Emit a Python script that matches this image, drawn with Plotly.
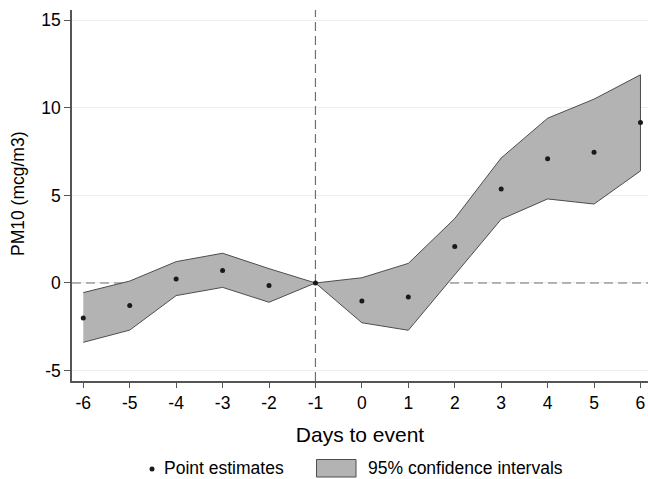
import plotly.graph_objects as go

days = [-6, -5, -4, -3, -2, -1, 0, 1, 2, 3, 4, 5, 6]
point_est = [-2.0, -1.28, 0.23, 0.72, -0.15, 0.0, -1.03, -0.80, 2.08, 5.37, 7.10, 7.47, 9.16]
ci_upper = [-0.55, 0.11, 1.22, 1.70, 0.82, 0.0, 0.30, 1.12, 3.68, 7.14, 9.41, 10.50, 11.89]
ci_lower = [-3.39, -2.69, -0.72, -0.25, -1.10, 0.0, -2.27, -2.70, 0.47, 3.64, 4.80, 4.51, 6.40]
x_ticktext = ["-6", "-5", "-4", "-3", "-2", "-1", "0", "1", "2", "3", "4", "5", "6"]
y_ticks = [-5, 0, 5, 10, 15]
y_ticktext = ["-5", "0", "5", "10", "15"]
legend_labels = ["Point estimates", "95% confidence intervals"]
x_title = "Days to event"
y_title = "PM10 (mcg/m3)"
event_day = -1
x_range = [-6.243, 6.162]
y_range = [-5.597, 15.59]

font = "Liberation Sans, Arial, Helvetica, sans-serif"
FS = 17.5
W, H = 648, 479
L, R, T, B = 72, 0, 10, 98
pw, ph = W - L - R, H - T - B


def px(x):
    return (x - L) / pw


def py(y):
    return (H - B - y) / ph


dash_line = dict(color="#707070", width=1.2, dash="9px,5px")

fig = go.Figure()
# reference lines (drawn beneath the band)
fig.add_trace(go.Scatter(x=[event_day, event_day], y=y_range, mode="lines",
                         line=dash_line, hoverinfo="skip", showlegend=False))
fig.add_trace(go.Scatter(x=x_range, y=[0, 0], mode="lines",
                         line=dash_line, hoverinfo="skip", showlegend=False))
fig.add_trace(go.Scatter(
    x=days + days[::-1], y=ci_upper + ci_lower[::-1],
    fill="toself", fillcolor="#b3b3b3", mode="lines",
    line=dict(color="#4d4d4d", width=1),
    name=legend_labels[1], hoverinfo="skip",
))
fig.add_trace(go.Scatter(
    x=days, y=point_est, mode="markers",
    marker=dict(color="#1a1a1a", size=5),
    name=legend_labels[0],
))

# y-axis title
fig.add_annotation(text=y_title, xref="paper", yref="paper",
                   x=px(18), y=py(194), xanchor="center", yanchor="middle",
                   textangle=-90, showarrow=False, font=dict(size=FS))

# legend (custom, to match the reference key)
fig.add_shape(type="circle", xref="paper", yref="paper",
              x0=px(149.5), x1=px(154.5), y0=py(471.5), y1=py(466.5),
              fillcolor="#1a1a1a", line=dict(width=0))
fig.add_annotation(text=legend_labels[0], xref="paper", yref="paper",
                   x=px(162), y=py(468), xanchor="left", yanchor="middle",
                   showarrow=False, font=dict(size=FS))
fig.add_shape(type="rect", xref="paper", yref="paper",
              x0=px(316.5), x1=px(356), y0=py(477), y1=py(459.5),
              fillcolor="#b3b3b3", line=dict(color="#4d4d4d", width=1))
fig.add_annotation(text=legend_labels[1], xref="paper", yref="paper",
                   x=px(366), y=py(468), xanchor="left", yanchor="middle",
                   showarrow=False, font=dict(size=FS))

fig.update_layout(
    width=W, height=H,
    margin=dict(l=L, r=R, t=T, b=B, autoexpand=False),
    paper_bgcolor="white", plot_bgcolor="white",
    font=dict(family=font, size=FS, color="black"),
    showlegend=False,
    xaxis=dict(
        range=x_range, tickvals=days, ticktext=x_ticktext,
        ticks="outside", ticklen=5, tickwidth=1.2,
        tickcolor="#555555", showline=True, linecolor="#555555", linewidth=1.5,
        showgrid=False, zeroline=False, ticklabelstandoff=0,
        title=dict(text=x_title, standoff=16),
    ),
    yaxis=dict(
        range=y_range, tickvals=y_ticks, ticktext=y_ticktext,
        ticks="outside", ticklen=6, tickwidth=1.2,
        tickcolor="#555555", showline=True, linecolor="#555555", linewidth=1.5,
        showgrid=True, gridcolor="#eeeeee", gridwidth=1, zeroline=False,
    ),
)

fig.write_html("out.html")
